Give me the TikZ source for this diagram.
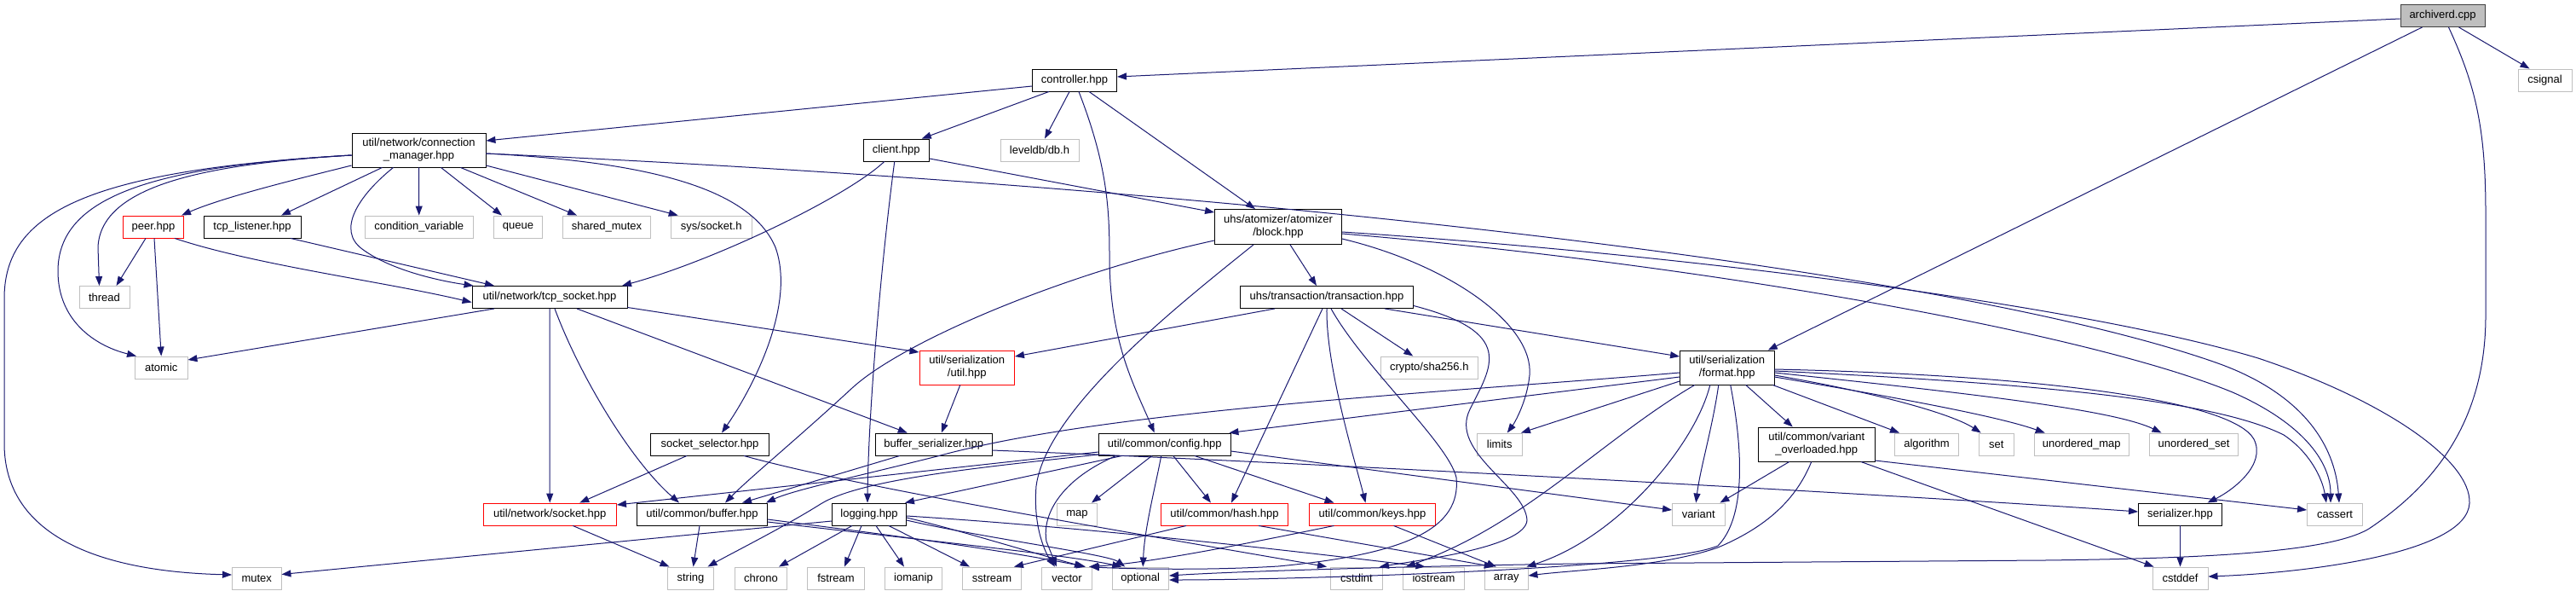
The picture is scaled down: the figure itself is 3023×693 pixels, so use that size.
\documentclass[tikz,border=0pt]{standalone}
\usepackage{fontspec}
\setmainfont{Liberation Sans}
\usetikzlibrary{arrows.meta}
\definecolor{navy}{HTML}{191970}
\definecolor{lgray}{HTML}{BFBFBF}
\definecolor{dgray}{HTML}{404040}
\definecolor{rootgray}{HTML}{BFBFBF}
\begin{document}
\begin{tikzpicture}[x=1pt,y=-1pt,
  box/.style={font=\fontsize{13}{15}\selectfont, inner sep=0pt, minimum height=26pt, align=center, line width=0.9pt, fill=white},
  doc/.style={box, draw=black},
  ext/.style={box, draw=lgray},
  trunc/.style={box, draw=red},
  root/.style={box, draw=dgray, fill=rootgray},
  two/.style={minimum height=40pt},
  edge/.style={draw=navy, line width=1pt, -{Triangle[length=11pt,width=8pt]}},
]
\fill[white] (0,0) rectangle (3023,693);
\useasboundingbox (0,0) rectangle (3023,693);

% ---------------- nodes ----------------
\node[root, minimum width=99pt] (archiverd) at (2866.5,18.5) {archiverd.cpp};
\node[doc, minimum width=99pt] (controller) at (1261,94) {controller.hpp};
\node[ext, minimum width=63pt] (csignal) at (2986.5,94) {csignal};
\node[doc, two, minimum width=157pt] (conn) at (491.5,176) {util/network/connection\\\_manager.hpp};
\node[doc, minimum width=77.5pt] (client) at (1051.75,176) {client.hpp};
\node[ext, minimum width=92pt] (leveldb) at (1220,176) {leveldb/db.h};
\node[trunc, minimum width=71pt] (peer) at (180,266) {peer.hpp};
\node[doc, minimum width=114pt] (tcplistener) at (296,266) {tcp\_listener.hpp};
\node[ext, minimum width=126.5pt] (condvar) at (491.75,266) {condition\_variable};
\node[ext, minimum width=57pt] (queue) at (608,266) {queue};
\node[ext, minimum width=103pt] (sharedmutex) at (712,266) {shared\_mutex};
\node[ext, minimum width=95.5pt] (syssocket) at (834.75,266) {sys/socket.h};
\node[doc, two, minimum width=149pt, minimum height=41pt] (block) at (1500,266) {uhs/atomizer/atomizer\\/block.hpp};
\node[ext, minimum width=59pt] (thread) at (122.5,348.5) {thread};
\node[doc, minimum width=182pt] (tcpsocket) at (645,348.5) {util/network/tcp\_socket.hpp};
\node[doc, minimum width=203pt] (transaction) at (1557,348.5) {uhs/transaction/transaction.hpp};
\node[ext, minimum width=61.5pt] (atomic) at (189.25,431) {atomic};
\node[trunc, two, minimum width=111.5pt] (serutil) at (1134.75,431) {util/serialization\\/util.hpp};
\node[ext, minimum width=113.5pt] (sha) at (1677.25,431) {crypto/sha256.h};
\node[doc, two, minimum width=110.5pt] (format) at (2026.75,431) {util/serialization\\/format.hpp};
\node[doc, minimum width=139pt] (selector) at (833,521) {socket\_selector.hpp};
\node[doc, minimum width=136.5pt] (bufser) at (1095.75,521) {buffer\_serializer.hpp};
\node[doc, minimum width=154.5pt] (config) at (1366.75,521) {util/common/config.hpp};
\node[ext, minimum width=53.5pt] (limits) at (1759.75,521) {limits};
\node[doc, two, minimum width=136.5pt] (varover) at (2131.75,521) {util/common/variant\\\_overloaded.hpp};
\node[ext, minimum width=75pt] (algorithm) at (2261,521) {algorithm};
\node[ext, minimum width=40.5pt] (set) at (2342.75,521) {set};
\node[ext, minimum width=111.5pt] (umap) at (2442.75,521) {unordered\_map};
\node[ext, minimum width=104pt] (uset) at (2574.5,521) {unordered\_set};
\node[trunc, minimum width=156.5pt] (sockethpp) at (645.25,603) {util/network/socket.hpp};
\node[doc, minimum width=153pt] (buffer) at (824,603) {util/common/buffer.hpp};
\node[doc, minimum width=87pt] (logging) at (1020,603) {logging.hpp};
\node[ext, minimum width=47pt] (map) at (1264,603) {map};
\node[trunc, minimum width=149pt] (hash) at (1437,603) {util/common/hash.hpp};
\node[trunc, minimum width=148pt] (keys) at (1610.5,603) {util/common/keys.hpp};
\node[ext, minimum width=61.5pt] (variant) at (1993.25,603) {variant};
\node[doc, minimum width=98pt] (serializer) at (2558.5,603) {serializer.hpp};
\node[ext, minimum width=65pt] (cassert) at (2740,603) {cassert};
\node[ext, minimum width=57.5pt] (mutex) at (301.25,678) {mutex};
\node[ext, minimum width=54pt] (string) at (810.5,678) {string};
\node[ext, minimum width=61pt] (chrono) at (893,678) {chrono};
\node[ext, minimum width=67pt] (fstream) at (981,678) {fstream};
\node[ext, minimum width=67pt] (iomanip) at (1072,678) {iomanip};
\node[ext, minimum width=69pt] (sstream) at (1164,678) {sstream};
\node[ext, minimum width=59pt] (vector) at (1252,678) {vector};
\node[ext, minimum width=66.5pt] (optional) at (1338.25,678) {optional};
\node[ext, minimum width=61pt] (cstdint) at (1592,678) {cstdint};
\node[ext, minimum width=72pt] (iostream) at (1682.5,678) {iostream};
\node[ext, minimum width=50.5pt] (array) at (1767.75,678) {array};
\node[ext, minimum width=65pt] (cstddef) at (2558.5,678) {cstddef};

% ---------------- edges ----------------
% archiverd.cpp
\draw[edge] ([yshift=-3.5pt]archiverd.west) -- ([yshift=4pt]controller.east);
\draw[edge] ([xshift=19pt]archiverd.south) -- ([xshift=-18pt]csignal.north);
\draw[edge] ([xshift=-24pt]archiverd.south) -- ([xshift=48pt]format.north);
\draw[edge] ([xshift=7pt]archiverd.south) .. controls (2905,100) and (2917,150) .. (2917,250) -- (2917,370) .. controls (2917,480) and (2870,560) .. (2780,620) .. controls (2730,650) and (2560,655) .. (2400,657) -- (1850,661) .. controls (1650,664) and (1450,670) .. ([yshift=3pt]optional.east);

% controller.hpp
\draw[edge] ([yshift=-7pt]controller.west) -- ([yshift=11pt]conn.east);
\draw[edge] ([xshift=-30pt]controller.south) -- ([xshift=30pt]client.north);
\draw[edge] ([xshift=-6pt]controller.south) -- ([xshift=6pt]leveldb.north);
\draw[edge] ([xshift=17pt]controller.south) -- ([xshift=-27pt]block.north);
\draw[edge] ([xshift=5pt]controller.south) .. controls (1298,190) and (1302,240) .. (1302,300) .. controls (1302,400) and (1330,450) .. ([xshift=-12pt]config.north);

% client.hpp
\draw[edge] ([yshift=-10pt]client.east) -- ([yshift=17pt]block.west);
\draw[edge] ([xshift=-14pt]client.south) .. controls (995,230) and (840,305) .. ([xshift=85pt]tcpsocket.north);
\draw[edge] ([xshift=-2pt]client.south) .. controls (1035,300) and (1019,480) .. ([xshift=-2pt]logging.north);

% connection_manager.hpp
\draw[edge] ([yshift=-18pt]conn.west) .. controls (340,212) and (260,232) .. ([xshift=33pt]peer.north);
\draw[edge] ([xshift=-43pt]conn.south) -- ([xshift=34pt]tcplistener.north);
\draw[edge] (conn.south) -- (condvar.north);
\draw[edge] ([xshift=26pt]conn.south) -- ([xshift=-19pt]queue.north);
\draw[edge] ([xshift=49pt]conn.south) -- ([xshift=-35pt]sharedmutex.north);
\draw[edge] ([yshift=-18pt]conn.east) -- ([xshift=-39pt]syssocket.north);
\draw[edge] ([yshift=-6pt]conn.west) .. controls (250,192) and (118,215) .. (115,290) -- ([xshift=-6pt]thread.north);
\draw[edge] ([yshift=-6pt]conn.west) .. controls (180,195) and (68,230) .. (68,318) .. controls (68,375) and (110,405) .. ([xshift=2pt]atomic.north west);
\draw[edge] ([yshift=-6pt]conn.west) .. controls (100,200) and (5,250) .. (5,350) -- (5,520) .. controls (5,625) and (110,670) .. ([yshift=4pt]mutex.west);
\draw[edge] ([xshift=-30pt]conn.south) .. controls (420,230) and (395,270) .. (425,292) .. controls (460,318) and (520,330) .. ([xshift=2pt]tcpsocket.north west);
\draw[edge] ([yshift=-4pt]conn.east) .. controls (760,190) and (880,220) .. (910,290) .. controls (935,360) and (880,460) .. ([xshift=14pt]selector.north);
\draw[edge] ([yshift=-4pt]conn.east) .. controls (1500,222) and (2300,320) .. (2600,425) .. controls (2700,460) and (2740,520) .. ([xshift=5pt]cassert.north);

% peer.hpp, tcp_listener.hpp
\draw[edge] ([xshift=-9pt]peer.south) -- ([xshift=14pt]thread.north);
\draw[edge] ([xshift=1pt]peer.south) -- (atomic.north);
\draw[edge] ([xshift=25pt]peer.south) .. controls (300,311) and (450,330) .. ([yshift=-6pt]tcpsocket.west);
\draw[edge] ([xshift=45pt]tcplistener.south) -- ([xshift=-65pt]tcpsocket.north);

% block.hpp
\draw[edge] ([xshift=14pt]block.south) -- ([xshift=-12pt]transaction.north);
\draw[edge] ([yshift=-16pt]block.west) .. controls (1250,320) and (1060,400) .. (1000,455) .. controls (935,515) and (880,560) .. ([xshift=27pt]buffer.north);
\draw[edge] ([xshift=-29pt]block.south) .. controls (1380,360) and (1228,480) .. (1216,570) .. controls (1212,620) and (1228,650) .. ([xshift=-14pt]vector.north);
\draw[edge] ([yshift=-14pt]block.east) .. controls (1700,310) and (1800,380) .. (1795,440) .. controls (1792,470) and (1778,495) .. ([xshift=9pt]limits.north);
\draw[edge] ([yshift=-6pt]block.east) .. controls (2000,300) and (2450,360) .. (2650,420) .. controls (2800,470) and (2900,540) .. (2898,590) .. controls (2895,650) and (2700,672) .. ([yshift=2pt]cstddef.east);
\draw[edge] ([yshift=-8pt]block.east) .. controls (2000,310) and (2450,390) .. (2620,460) .. controls (2700,495) and (2735,540) .. ([xshift=-5pt]cassert.north);

% transaction.hpp
\draw[edge] ([xshift=-61pt]transaction.south) -- ([yshift=13pt]serutil.east);
\draw[edge] ([xshift=68pt]transaction.south) -- ([yshift=13pt]format.west);
\draw[edge] ([xshift=17pt]transaction.south) -- ([xshift=-19pt]sha.north);
\draw[edge] ([xshift=-5pt]transaction.south) -- ([xshift=8pt]hash.north);
\draw[edge] (transaction.south) .. controls (1556,430) and (1590,540) .. ([xshift=-8pt]keys.north);
\draw[edge] ([xshift=5pt]transaction.south) .. controls (1600,430) and (1700,520) .. (1709,560) .. controls (1715,620) and (1650,650) .. (1500,664) .. controls (1400,670) and (1300,666) .. ([xshift=27pt]vector.north);
\draw[edge] ([yshift=-10pt]transaction.east) .. controls (1780,390) and (1750,430) .. (1725,480) .. controls (1700,530) and (1790,570) .. (1792,610) .. controls (1790,640) and (1680,655) .. ([xshift=-4pt]cstdint.north east);

% util/serialization/util.hpp
\draw[edge] ([xshift=-8pt]serutil.south) -- ([xshift=9pt]bufser.north);

% tcp_socket.hpp
\draw[edge] ([xshift=-65pt]tcpsocket.south) -- ([yshift=9pt]atomic.east);
\draw[edge] (tcpsocket.south) -- (sockethpp.north);
\draw[edge] ([xshift=6pt]tcpsocket.south) .. controls (680,440) and (740,540) .. ([xshift=-27pt]buffer.north);
\draw[edge] ([xshift=32pt]tcpsocket.south) -- ([xshift=-31pt]bufser.north);
\draw[edge] ([yshift=-12pt]tcpsocket.east) -- ([yshift=18pt]serutil.west);

% socket_selector.hpp
\draw[edge] ([xshift=-27pt]selector.south) -- ([xshift=35pt]sockethpp.north);
\draw[edge] ([xshift=40pt]selector.south) .. controls (1000,570) and (1300,620) .. ([xshift=-4pt]cstdint.north west);

% buffer_serializer.hpp
\draw[edge] ([xshift=-40pt]bufser.south) -- ([xshift=47pt]buffer.north);
\draw[edge] ([yshift=-7pt]bufser.east) .. controls (1600,545) and (2300,585) .. ([yshift=3pt]serializer.west);

% config.hpp
\draw[edge] ([xshift=-50pt]config.south) -- ([xshift=-2pt]logging.north east);
\draw[edge] ([xshift=-57pt]config.south) .. controls (1250,560) and (1222,600) .. (1228,635) -- ([xshift=-12pt]vector.north);
\draw[edge] ([xshift=-15pt]config.south) -- ([xshift=17pt]map.north);
\draw[edge] ([xshift=-4pt]config.south) .. controls (1356,570) and (1343,620) .. ([xshift=3pt]optional.north);
\draw[edge] ([xshift=10pt]config.south) -- ([xshift=-16pt]hash.north);
\draw[edge] ([xshift=35pt]config.south) -- ([xshift=-45pt]keys.north);
\draw[edge] ([yshift=-8pt]config.east) -- ([yshift=5pt]variant.west);
\draw[edge] ([yshift=-9pt]config.west) -- ([yshift=11pt]sockethpp.east);
\draw[edge] ([yshift=-12pt]config.west) .. controls (1150,548) and (1010,562) .. (963,591) .. controls (920,618) and (860,648) .. ([xshift=20pt]string.north);

% format.hpp
\draw[edge] ([yshift=-11pt]format.west) -- ([xshift=-2pt]config.north east);
\draw[edge] ([yshift=-6pt]format.west) .. controls (1700,460) and (1300,480) .. (1100,535) .. controls (1000,560) and (930,575) .. ([xshift=-2pt]buffer.north east);
\draw[edge] ([yshift=-16pt]format.west) -- ([xshift=-2pt]limits.north east);
\draw[edge] ([xshift=22pt]format.south) -- ([xshift=-28pt]varover.north);
\draw[edge] ([xshift=-2pt]format.south east) -- ([xshift=-32pt]algorithm.north);
\draw[edge] ([yshift=-9pt]format.east) .. controls (2200,460) and (2290,485) .. ([xshift=-18pt]set.north);
\draw[edge] ([yshift=-11pt]format.east) .. controls (2250,470) and (2350,490) .. ([xshift=-43pt]umap.north);
\draw[edge] ([yshift=-6pt]format.east) .. controls (2300,460) and (2480,480) .. ([xshift=-38pt]uset.north);
\draw[edge] ([yshift=-2pt]format.east) .. controls (2400,440) and (2620,470) .. (2645,515) .. controls (2660,545) and (2620,575) .. ([xshift=32pt]serializer.north);
\draw[edge] ([yshift=-4pt]format.east) .. controls (2400,450) and (2600,470) .. (2680,510) .. controls (2710,530) and (2725,560) .. ([xshift=-10pt]cassert.north);
\draw[edge] ([xshift=-10pt]format.south) .. controls (2010,500) and (1995,550) .. ([xshift=-3pt]variant.north);
\draw[edge] ([xshift=-20pt]format.south) .. controls (1990,520) and (1900,630) .. ([xshift=-2pt]array.north east);
\draw[edge] ([xshift=-38pt]format.south) .. controls (1880,515) and (1790,615) .. ([xshift=4pt]iostream.north west);
\draw[edge] ([xshift=4pt]format.south) .. controls (2040,500) and (2055,600) .. (2016,640) .. controls (1950,668) and (1500,680) .. ([yshift=-2pt]optional.east);

% variant_overloaded.hpp
\draw[edge] ([xshift=-32pt]varover.south) -- ([xshift=-6pt]variant.north east);
\draw[edge] ([xshift=52pt]varover.south) -- ([xshift=2pt]cstddef.north west);
\draw[edge] ([yshift=-19pt]varover.east) -- ([yshift=5pt]cassert.west);
\draw[edge] ([xshift=-6pt]varover.south) .. controls (2110,580) and (2080,615) .. (2016,642) .. controls (1950,665) and (1850,668) .. ([yshift=3pt]array.east);

% serializer.hpp
\draw[edge] (serializer.south) -- (cstddef.north);

% socket.hpp, buffer.hpp
\draw[edge] ([xshift=27pt]sockethpp.south) -- ([xshift=-25pt]string.north);
\draw[edge] ([xshift=-3pt]buffer.south) -- ([xshift=3pt]string.north);
\draw[edge] ([yshift=-6pt]buffer.east) .. controls (1000,622) and (1150,640) .. ([xshift=22pt]vector.north);
\draw[edge] ([yshift=-9pt]buffer.east) .. controls (1050,630) and (1250,650) .. ([xshift=-22pt]optional.north);

% logging.hpp
\draw[edge] ([yshift=-8pt]logging.west) -- ([yshift=4.5pt]mutex.east);
\draw[edge] ([xshift=-20pt]logging.south) -- ([xshift=21pt]chrono.north);
\draw[edge] ([xshift=-9pt]logging.south) -- ([xshift=10pt]fstream.north);
\draw[edge] ([xshift=8pt]logging.south) -- ([xshift=-11pt]iomanip.north);
\draw[edge] ([xshift=23pt]logging.south) -- ([xshift=-26pt]sstream.north);
\draw[edge] ([yshift=-4pt]logging.east) .. controls (1120,620) and (1200,645) .. ([xshift=20pt]vector.north);
\draw[edge] ([yshift=-7pt]logging.east) .. controls (1150,630) and (1300,650) .. ([xshift=-18pt]optional.north);
\draw[edge] ([yshift=-2pt]logging.east) .. controls (1300,620) and (1550,650) .. ([xshift=-10pt]iostream.north);

% hash.hpp, keys.hpp
\draw[edge] ([xshift=-45pt]hash.south) -- ([xshift=26pt]sstream.north);
\draw[edge] ([xshift=40pt]hash.south) -- ([xshift=-15pt]array.north);
\draw[edge] ([xshift=-45pt]keys.south) .. controls (1450,640) and (1350,660) .. ([xshift=26pt]vector.north);
\draw[edge] ([xshift=25pt]keys.south) -- ([xshift=-12pt]array.north);
\end{tikzpicture}
\end{document}
